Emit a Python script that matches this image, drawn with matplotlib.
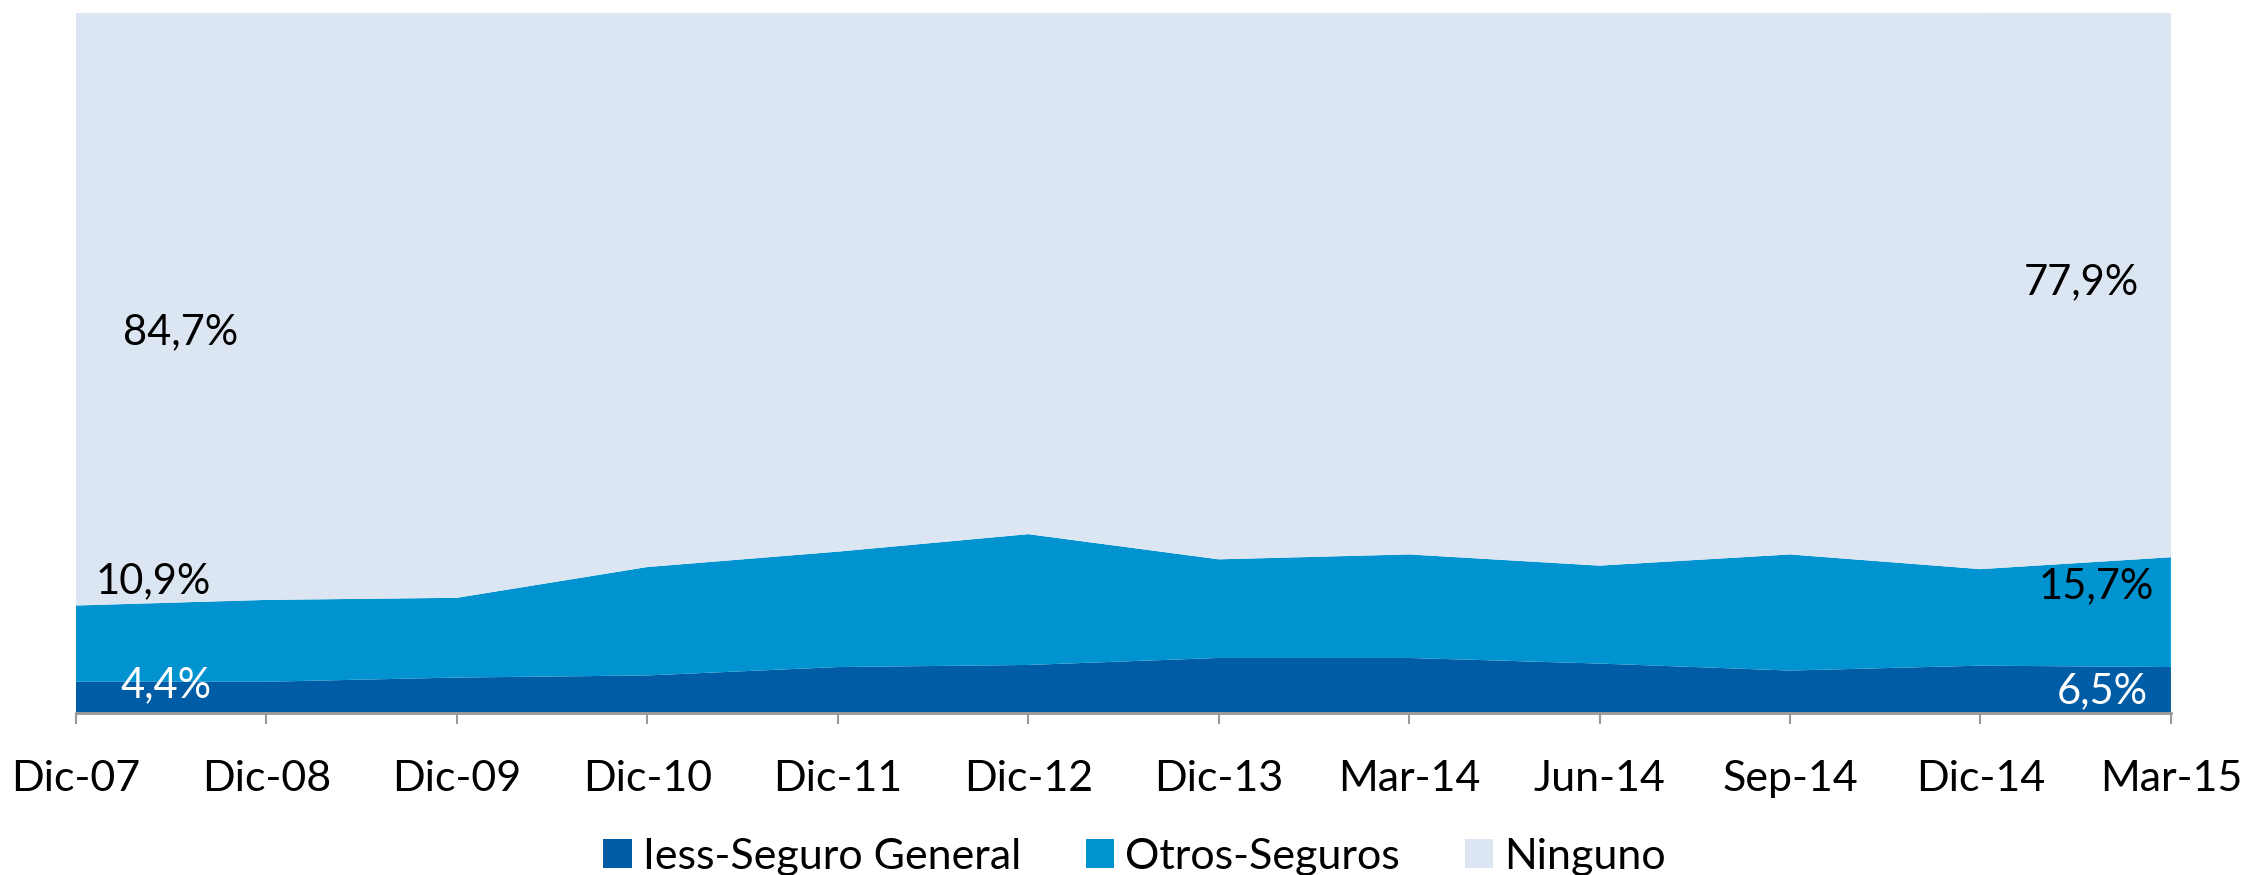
import matplotlib
matplotlib.use("Agg")
from matplotlib import pyplot as plt
import numpy as np

periods = ["Dic-07", "Dic-08", "Dic-09", "Dic-10", "Dic-11", "Dic-12",
           "Dic-13", "Mar-14", "Jun-14", "Sep-14", "Dic-14", "Mar-15"]
iess = [4.4, 4.4, 5.0, 5.3, 6.5, 6.8, 7.8, 7.8, 7.0, 6.0, 6.7, 6.5]
otros = [10.9, 11.7, 11.4, 15.5, 16.5, 18.7, 14.1, 14.8, 14.0, 16.6, 13.8, 15.7]
ninguno = [84.7, 83.9, 83.6, 79.2, 77.0, 74.5, 78.1, 77.4, 79.0, 77.4, 79.5, 77.9]

names = ["Iess-Seguro General", "Otros-Seguros", "Ninguno"]
colors = ["#005DA5", "#0093D0", "#DCE6F2"]

plt.rcParams["font.family"] = ["Lato", "DejaVu Sans"]

fig = plt.figure(figsize=(22.42, 8.75), dpi=100)
ax = fig.add_axes([0.0339, 0.1857, 0.9344, 0.7994])

x = np.arange(len(periods))
ax.stackplot(x, iess, otros, ninguno, colors=colors, labels=names,
             linewidth=0)

ax.set_xlim(0, len(periods) - 1)
ax.set_ylim(0, 100)
ax.set_xticks(x)
ax.set_xticklabels(periods, fontsize=31)
ax.set_yticks([])
ax.tick_params(axis="x", length=8, width=1.5, color="#999999", pad=26)
for side in ["top", "left", "right"]:
    ax.spines[side].set_visible(False)
ax.spines["bottom"].set_color("#999999")
ax.spines["bottom"].set_linewidth(2)

# etiquetas de inicio y fin
ax.text(0.55, 54.4, "84,7%", fontsize=30, ha="center", va="center")
ax.text(10.53, 61.5, "77,9%", fontsize=30, ha="center", va="center")
ax.text(0.71, 18.8, "10,9%", fontsize=30, ha="right", va="center")
ax.text(0.71, 3.9, "4,4%", fontsize=30, ha="right", va="center", color="white")
ax.text(10.91, 18.1, "15,7%", fontsize=30, ha="right", va="center")
ax.text(10.88, 3.1, "6,5%", fontsize=30, ha="right", va="center", color="white")

fig.legend(loc="center", bbox_to_anchor=(0.506, 0.021), ncol=3, frameon=False,
           fontsize=31, handlelength=0.67, handleheight=0.67,
           handletextpad=0.25, columnspacing=1.5)

fig.savefig("out.png", dpi=100)
